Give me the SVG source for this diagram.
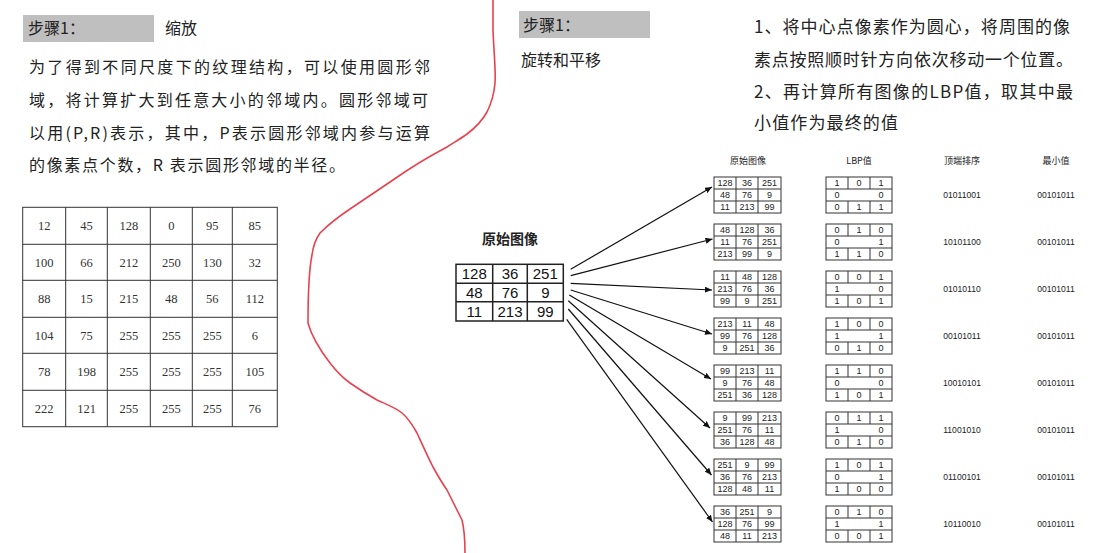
<svg xmlns="http://www.w3.org/2000/svg" width="1118" height="553" viewBox="0 0 1118 553">
<style>
.bg{fill:#ffffff}
.hdr{fill:#bfbfbf}
.cn{font-family:"Noto Sans CJK SC","Liberation Serif",serif;fill:#222}
.body{font-size:16px}
.grid{fill:none;stroke:#333;stroke-width:1}
.lt{font-family:"Liberation Serif","Noto Sans CJK SC",serif;font-size:12.5px;fill:#333;text-anchor:middle}
.st{fill:none;stroke:#333;stroke-width:1}
.sn{font-family:"Liberation Sans",Arial,sans-serif;font-size:9px;fill:#222;text-anchor:middle}
.sh{font-family:"Noto Sans CJK SC",sans-serif;font-size:9px;fill:#222;text-anchor:middle}
.bits{font-family:"Liberation Sans",Arial,sans-serif;font-size:8.6px;fill:#222;text-anchor:middle}
.ot{fill:none;stroke:#222;stroke-width:1.5}
.on{font-family:"Liberation Sans",Arial,sans-serif;font-size:15px;fill:#111;text-anchor:middle}
.arr{fill:none;stroke:#111;stroke-width:1.2;marker-end:url(#ah)}
.red{fill:none;stroke:#e8424f;stroke-width:1.6;stroke-linejoin:round;stroke-linecap:round}
</style>
<defs>
<marker id="ah" markerUnits="userSpaceOnUse" markerWidth="7" markerHeight="6" refX="7" refY="3" orient="auto">
<path d="M0,0 L7,3 L0,6 z" fill="#111"/>
</marker>
</defs>
<rect class="bg" x="0" y="0" width="1118" height="553"/>

<!-- Left panel -->
<g id="left-header">
<rect class="hdr" x="23" y="15" width="131" height="27"/>
<text class="cn body" x="28" y="34">步骤1：</text>
<text class="cn body" x="165" y="34">缩放</text>
</g>
<g id="left-body">
<text class="cn body" x="29" y="73" textLength="401" lengthAdjust="spacing">为了得到不同尺度下的纹理结构，可以使用圆形邻</text>
<text class="cn body" x="29" y="106" textLength="399" lengthAdjust="spacing">域，将计算扩大到任意大小的邻域内。圆形邻域可</text>
<text class="cn body" x="29" y="139" textLength="401" lengthAdjust="spacing">以用(P,R)表示，其中，P表示圆形邻域内参与运算</text>
<text class="cn body" x="29" y="171" textLength="316" lengthAdjust="spacing">的像素点个数，R 表示圆形邻域的半径。</text>
</g>
<g id="left-table">
<rect class="grid" x="22.7" y="207.3" width="254.6" height="219.4"/>
<path class="grid" d="M65.7,207.3V426.7M107.3,207.3V426.7M150.3,207.3V426.7M192.3,207.3V426.7M232.3,207.3V426.7M22.7,244.3H277.3M22.7,280.3H277.3M22.7,317.3H277.3M22.7,353.3H277.3M22.7,390.3H277.3"/>
<text class="lt" y="230"><tspan x="44.2">12</tspan><tspan x="86.5">45</tspan><tspan x="128.8">128</tspan><tspan x="171.3">0</tspan><tspan x="212.3">95</tspan><tspan x="254.8">85</tspan></text>
<text class="lt" y="266.5"><tspan x="44.2">100</tspan><tspan x="86.5">66</tspan><tspan x="128.8">212</tspan><tspan x="171.3">250</tspan><tspan x="212.3">130</tspan><tspan x="254.8">32</tspan></text>
<text class="lt" y="303"><tspan x="44.2">88</tspan><tspan x="86.5">15</tspan><tspan x="128.8">215</tspan><tspan x="171.3">48</tspan><tspan x="212.3">56</tspan><tspan x="254.8">112</tspan></text>
<text class="lt" y="339.5"><tspan x="44.2">104</tspan><tspan x="86.5">75</tspan><tspan x="128.8">255</tspan><tspan x="171.3">255</tspan><tspan x="212.3">255</tspan><tspan x="254.8">6</tspan></text>
<text class="lt" y="376"><tspan x="44.2">78</tspan><tspan x="86.5">198</tspan><tspan x="128.8">255</tspan><tspan x="171.3">255</tspan><tspan x="212.3">255</tspan><tspan x="254.8">105</tspan></text>
<text class="lt" y="412.7"><tspan x="44.2">222</tspan><tspan x="86.5">121</tspan><tspan x="128.8">255</tspan><tspan x="171.3">255</tspan><tspan x="212.3">255</tspan><tspan x="254.8">76</tspan></text>
</g>

<!-- Divider -->
<path id="divider" class="red" d="M493,0 L493,30 C494,55 496,72 495,83 C494,95 491,104 487,112 C482,121 475,128 467,134 C460,139 453,143 447,147 C430,156 410,168 393,180 C378,190 365,199 350,209 C338,217 328,225 320,233 C315,240 313,247 312,255 C309,270 308,290 308,323 C312,338 320,350 330,363 C337,372 343,378 350,383 C360,390 368,395 377,400 C388,405 396,408 402,413 C408,418 412,424 417,433 C423,446 428,457 433,467 C438,476 442,483 447,490 C452,500 457,510 462,520 C464,528 465,540 465,553"/>

<!-- Right panel -->
<g id="right-header">
<rect class="hdr" x="519" y="11" width="131" height="27"/>
<text class="cn body" x="523" y="31">步骤1：</text>
<text class="cn body" x="521" y="66">旋转和平移</text>
</g>
<g id="right-body">
<text class="cn" font-size="17" x="754" y="33" textLength="316" lengthAdjust="spacing">1、将中心点像素作为圆心，将周围的像</text>
<text class="cn" font-size="17" x="754" y="66" textLength="319" lengthAdjust="spacing">素点按照顺时针方向依次移动一个位置。</text>
<text class="cn" font-size="17" x="754" y="98" textLength="319" lengthAdjust="spacing">2、再计算所有图像的LBP值，取其中最</text>
<text class="cn" font-size="17" x="754" y="129" textLength="144" lengthAdjust="spacing">小值作为最终的值</text>
</g>

<g id="column-headers">
<text class="sh" x="748" y="164">原始图像</text>
<text class="sh" x="859" y="164">LBP值</text>
<text class="sh" x="962" y="164">顶端排序</text>
<text class="sh" x="1056" y="164">最小值</text>
</g>

<g id="original-image">
<text class="cn" font-size="14" font-weight="bold" x="510" y="244" text-anchor="middle">原始图像</text>
<rect class="ot" x="456" y="264.3" width="107.3" height="56.7"/>
<path class="ot" d="M492.7,264.3V321M527.3,264.3V321M456,283.3H563.3M456,301.7H563.3"/>
<text class="on" y="279"><tspan x="474.3">128</tspan><tspan x="510">36</tspan><tspan x="545.3">251</tspan></text>
<text class="on" y="298"><tspan x="474.3">48</tspan><tspan x="510">76</tspan><tspan x="545.3">9</tspan></text>
<text class="on" y="316.5"><tspan x="474.3">11</tspan><tspan x="510">213</tspan><tspan x="545.3">99</tspan></text>
</g>

<g id="connectors">
<path class="arr" d="M570.7,269.3L712,187"/>
<path class="arr" d="M570.7,275.7L712.5,239"/>
<path class="arr" d="M570.7,283.3L712,290"/>
<path class="arr" d="M570.7,290L712,334"/>
<path class="arr" d="M569.3,295L711,379"/>
<path class="arr" d="M568.3,300.7L710,428"/>
<path class="arr" d="M568.3,309L711.5,475"/>
<path class="arr" d="M566.7,319.3L712.5,522"/>
</g>

<!-- Row 1 -->
<g id="rot1" transform="translate(714,177)">
<rect class="st" width="67" height="36"/><path class="st" d="M0,12H67M0,24H67M22,0V36M44,0V36"/>
<text class="sn" y="9"><tspan x="11">128</tspan><tspan x="33">36</tspan><tspan x="55.5">251</tspan></text>
<text class="sn" y="21"><tspan x="11">48</tspan><tspan x="33">76</tspan><tspan x="55.5">9</tspan></text>
<text class="sn" y="33"><tspan x="11">11</tspan><tspan x="33">213</tspan><tspan x="55.5">99</tspan></text>
</g>
<g id="lbp1" transform="translate(826,177)">
<rect class="st" width="66" height="36"/><path class="st" d="M0,12H66M0,24H66M22,0V12M44,0V12M22,24V36M44,24V36"/>
<text class="sn" y="9"><tspan x="11">1</tspan><tspan x="33">0</tspan><tspan x="55">1</tspan></text>
<text class="sn" y="21"><tspan x="11">0</tspan><tspan x="55">0</tspan></text>
<text class="sn" y="33"><tspan x="11">0</tspan><tspan x="33">1</tspan><tspan x="55">1</tspan></text>
</g>
<g id="res1"><text class="bits" x="962" y="198">01011001</text><text class="bits" x="1056" y="198">00101011</text></g>

<!-- Row 2 -->
<g id="rot2" transform="translate(714,224)">
<rect class="st" width="67" height="36"/><path class="st" d="M0,12H67M0,24H67M22,0V36M44,0V36"/>
<text class="sn" y="9"><tspan x="11">48</tspan><tspan x="33">128</tspan><tspan x="55.5">36</tspan></text>
<text class="sn" y="21"><tspan x="11">11</tspan><tspan x="33">76</tspan><tspan x="55.5">251</tspan></text>
<text class="sn" y="33"><tspan x="11">213</tspan><tspan x="33">99</tspan><tspan x="55.5">9</tspan></text>
</g>
<g id="lbp2" transform="translate(826,224)">
<rect class="st" width="66" height="36"/><path class="st" d="M0,12H66M0,24H66M22,0V12M44,0V12M22,24V36M44,24V36"/>
<text class="sn" y="9"><tspan x="11">0</tspan><tspan x="33">1</tspan><tspan x="55">0</tspan></text>
<text class="sn" y="21"><tspan x="11">0</tspan><tspan x="55">1</tspan></text>
<text class="sn" y="33"><tspan x="11">1</tspan><tspan x="33">1</tspan><tspan x="55">0</tspan></text>
</g>
<g id="res2"><text class="bits" x="962" y="245">10101100</text><text class="bits" x="1056" y="245">00101011</text></g>

<!-- Row 3 -->
<g id="rot3" transform="translate(714,271)">
<rect class="st" width="67" height="36"/><path class="st" d="M0,12H67M0,24H67M22,0V36M44,0V36"/>
<text class="sn" y="9"><tspan x="11">11</tspan><tspan x="33">48</tspan><tspan x="55.5">128</tspan></text>
<text class="sn" y="21"><tspan x="11">213</tspan><tspan x="33">76</tspan><tspan x="55.5">36</tspan></text>
<text class="sn" y="33"><tspan x="11">99</tspan><tspan x="33">9</tspan><tspan x="55.5">251</tspan></text>
</g>
<g id="lbp3" transform="translate(826,271)">
<rect class="st" width="66" height="36"/><path class="st" d="M0,12H66M0,24H66M22,0V12M44,0V12M22,24V36M44,24V36"/>
<text class="sn" y="9"><tspan x="11">0</tspan><tspan x="33">0</tspan><tspan x="55">1</tspan></text>
<text class="sn" y="21"><tspan x="11">1</tspan><tspan x="55">0</tspan></text>
<text class="sn" y="33"><tspan x="11">1</tspan><tspan x="33">0</tspan><tspan x="55">1</tspan></text>
</g>
<g id="res3"><text class="bits" x="962" y="292">01010110</text><text class="bits" x="1056" y="292">00101011</text></g>

<!-- Row 4 -->
<g id="rot4" transform="translate(714,318)">
<rect class="st" width="67" height="36"/><path class="st" d="M0,12H67M0,24H67M22,0V36M44,0V36"/>
<text class="sn" y="9"><tspan x="11">213</tspan><tspan x="33">11</tspan><tspan x="55.5">48</tspan></text>
<text class="sn" y="21"><tspan x="11">99</tspan><tspan x="33">76</tspan><tspan x="55.5">128</tspan></text>
<text class="sn" y="33"><tspan x="11">9</tspan><tspan x="33">251</tspan><tspan x="55.5">36</tspan></text>
</g>
<g id="lbp4" transform="translate(826,318)">
<rect class="st" width="66" height="36"/><path class="st" d="M0,12H66M0,24H66M22,0V12M44,0V12M22,24V36M44,24V36"/>
<text class="sn" y="9"><tspan x="11">1</tspan><tspan x="33">0</tspan><tspan x="55">0</tspan></text>
<text class="sn" y="21"><tspan x="11">1</tspan><tspan x="55">1</tspan></text>
<text class="sn" y="33"><tspan x="11">0</tspan><tspan x="33">1</tspan><tspan x="55">0</tspan></text>
</g>
<g id="res4"><text class="bits" x="962" y="339">00101011</text><text class="bits" x="1056" y="339">00101011</text></g>

<!-- Row 5 -->
<g id="rot5" transform="translate(714,365)">
<rect class="st" width="67" height="36"/><path class="st" d="M0,12H67M0,24H67M22,0V36M44,0V36"/>
<text class="sn" y="9"><tspan x="11">99</tspan><tspan x="33">213</tspan><tspan x="55.5">11</tspan></text>
<text class="sn" y="21"><tspan x="11">9</tspan><tspan x="33">76</tspan><tspan x="55.5">48</tspan></text>
<text class="sn" y="33"><tspan x="11">251</tspan><tspan x="33">36</tspan><tspan x="55.5">128</tspan></text>
</g>
<g id="lbp5" transform="translate(826,365)">
<rect class="st" width="66" height="36"/><path class="st" d="M0,12H66M0,24H66M22,0V12M44,0V12M22,24V36M44,24V36"/>
<text class="sn" y="9"><tspan x="11">1</tspan><tspan x="33">1</tspan><tspan x="55">0</tspan></text>
<text class="sn" y="21"><tspan x="11">0</tspan><tspan x="55">0</tspan></text>
<text class="sn" y="33"><tspan x="11">1</tspan><tspan x="33">0</tspan><tspan x="55">1</tspan></text>
</g>
<g id="res5"><text class="bits" x="962" y="386">10010101</text><text class="bits" x="1056" y="386">00101011</text></g>

<!-- Row 6 -->
<g id="rot6" transform="translate(714,412)">
<rect class="st" width="67" height="36"/><path class="st" d="M0,12H67M0,24H67M22,0V36M44,0V36"/>
<text class="sn" y="9"><tspan x="11">9</tspan><tspan x="33">99</tspan><tspan x="55.5">213</tspan></text>
<text class="sn" y="21"><tspan x="11">251</tspan><tspan x="33">76</tspan><tspan x="55.5">11</tspan></text>
<text class="sn" y="33"><tspan x="11">36</tspan><tspan x="33">128</tspan><tspan x="55.5">48</tspan></text>
</g>
<g id="lbp6" transform="translate(826,412)">
<rect class="st" width="66" height="36"/><path class="st" d="M0,12H66M0,24H66M22,0V12M44,0V12M22,24V36M44,24V36"/>
<text class="sn" y="9"><tspan x="11">0</tspan><tspan x="33">1</tspan><tspan x="55">1</tspan></text>
<text class="sn" y="21"><tspan x="11">1</tspan><tspan x="55">0</tspan></text>
<text class="sn" y="33"><tspan x="11">0</tspan><tspan x="33">1</tspan><tspan x="55">0</tspan></text>
</g>
<g id="res6"><text class="bits" x="962" y="433">11001010</text><text class="bits" x="1056" y="433">00101011</text></g>

<!-- Row 7 -->
<g id="rot7" transform="translate(714,459)">
<rect class="st" width="67" height="36"/><path class="st" d="M0,12H67M0,24H67M22,0V36M44,0V36"/>
<text class="sn" y="9"><tspan x="11">251</tspan><tspan x="33">9</tspan><tspan x="55.5">99</tspan></text>
<text class="sn" y="21"><tspan x="11">36</tspan><tspan x="33">76</tspan><tspan x="55.5">213</tspan></text>
<text class="sn" y="33"><tspan x="11">128</tspan><tspan x="33">48</tspan><tspan x="55.5">11</tspan></text>
</g>
<g id="lbp7" transform="translate(826,459)">
<rect class="st" width="66" height="36"/><path class="st" d="M0,12H66M0,24H66M22,0V12M44,0V12M22,24V36M44,24V36"/>
<text class="sn" y="9"><tspan x="11">1</tspan><tspan x="33">0</tspan><tspan x="55">1</tspan></text>
<text class="sn" y="21"><tspan x="11">0</tspan><tspan x="55">1</tspan></text>
<text class="sn" y="33"><tspan x="11">1</tspan><tspan x="33">0</tspan><tspan x="55">0</tspan></text>
</g>
<g id="res7"><text class="bits" x="962" y="480">01100101</text><text class="bits" x="1056" y="480">00101011</text></g>

<!-- Row 8 -->
<g id="rot8" transform="translate(714,506)">
<rect class="st" width="67" height="36"/><path class="st" d="M0,12H67M0,24H67M22,0V36M44,0V36"/>
<text class="sn" y="9"><tspan x="11">36</tspan><tspan x="33">251</tspan><tspan x="55.5">9</tspan></text>
<text class="sn" y="21"><tspan x="11">128</tspan><tspan x="33">76</tspan><tspan x="55.5">99</tspan></text>
<text class="sn" y="33"><tspan x="11">48</tspan><tspan x="33">11</tspan><tspan x="55.5">213</tspan></text>
</g>
<g id="lbp8" transform="translate(826,506)">
<rect class="st" width="66" height="36"/><path class="st" d="M0,12H66M0,24H66M22,0V12M44,0V12M22,24V36M44,24V36"/>
<text class="sn" y="9"><tspan x="11">0</tspan><tspan x="33">1</tspan><tspan x="55">0</tspan></text>
<text class="sn" y="21"><tspan x="11">1</tspan><tspan x="55">1</tspan></text>
<text class="sn" y="33"><tspan x="11">0</tspan><tspan x="33">0</tspan><tspan x="55">1</tspan></text>
</g>
<g id="res8"><text class="bits" x="962" y="527">10110010</text><text class="bits" x="1056" y="527">00101011</text></g>
</svg>
